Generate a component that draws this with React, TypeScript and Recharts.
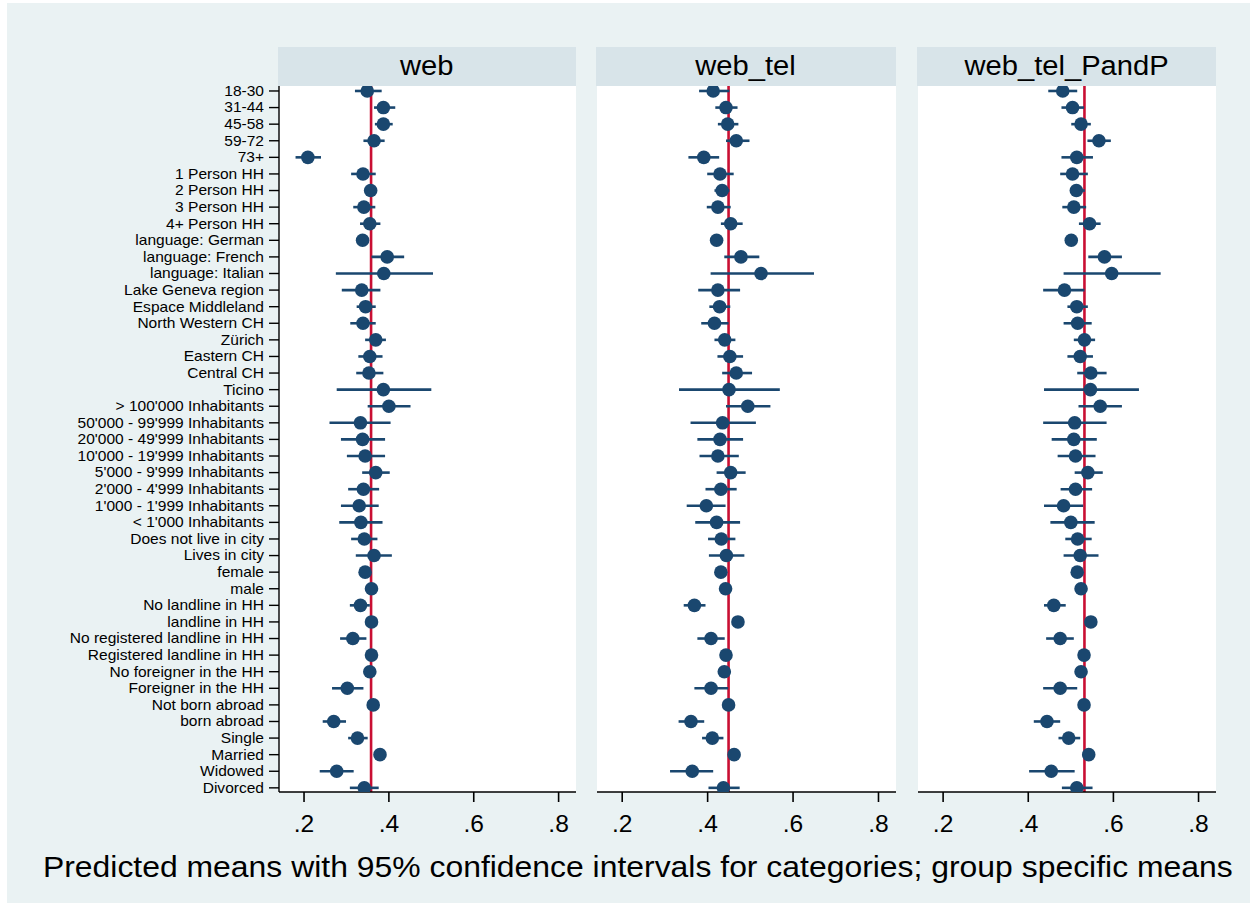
import {
  CartesianGrid,
  ComposedChart,
  ErrorBar,
  ReferenceLine,
  Scatter,
  XAxis,
  YAxis,
} from 'recharts'

// category labels, top to bottom
const categories = [
  '18-30', '31-44', '45-58', '59-72', '73+',
  '1 Person HH', '2 Person HH', '3 Person HH', '4+ Person HH',
  'language: German', 'language: French', 'language: Italian',
  'Lake Geneva region', 'Espace Middleland', 'North Western CH', 'Zürich',
  'Eastern CH', 'Central CH', 'Ticino',
  '> 100\'000 Inhabitants', '50\'000 - 99\'999 Inhabitants', '20\'000 - 49\'999 Inhabitants',
  '10\'000 - 19\'999 Inhabitants', '5\'000 - 9\'999 Inhabitants', '2\'000 - 4\'999 Inhabitants',
  '1\'000 - 1\'999 Inhabitants', '< 1\'000 Inhabitants',
  'Does not live in city', 'Lives in city', 'female', 'male',
  'No landline in HH', 'landline in HH', 'No registered landline in HH',
  'Registered landline in HH', 'No foreigner in the HH', 'Foreigner in the HH',
  'Not born abroad', 'born abroad', 'Single', 'Married', 'Widowed', 'Divorced',
]

const panelNames = ['web', 'web_tel', 'web_tel_PandP']
const groupMeans = [0.358, 0.449, 0.532]

const webMean = [
  0.349, 0.387, 0.387, 0.365, 0.209, 0.339, 0.357, 0.341, 0.355, 0.338, 0.396, 0.388,
  0.336, 0.345, 0.339, 0.369, 0.355, 0.353, 0.387, 0.400, 0.333, 0.338, 0.344, 0.369,
  0.340, 0.330, 0.334, 0.342, 0.365, 0.344, 0.359, 0.333, 0.359, 0.315, 0.359, 0.355,
  0.302, 0.363, 0.270, 0.326, 0.379, 0.277, 0.342,
]
const webLo = [
  0.320, 0.365, 0.367, 0.340, 0.180, 0.311, 0.350, 0.316, 0.332, 0.330, 0.359, 0.275,
  0.289, 0.324, 0.309, 0.344, 0.328, 0.323, 0.277, 0.350, 0.260, 0.287, 0.301, 0.337,
  0.304, 0.287, 0.283, 0.311, 0.322, 0.336, 0.352, 0.308, 0.354, 0.285, 0.353, 0.349,
  0.266, 0.357, 0.244, 0.304, 0.372, 0.237, 0.308,
]
const webHi = [
  0.383, 0.415, 0.409, 0.390, 0.240, 0.369, 0.371, 0.368, 0.380, 0.346, 0.436, 0.504,
  0.380, 0.369, 0.369, 0.393, 0.385, 0.387, 0.500, 0.451, 0.404, 0.391, 0.391, 0.402,
  0.377, 0.376, 0.385, 0.373, 0.407, 0.352, 0.366, 0.355, 0.364, 0.347, 0.365, 0.361,
  0.340, 0.369, 0.299, 0.350, 0.386, 0.317, 0.376,
]

const webTelMean = [
  0.413, 0.443, 0.447, 0.467, 0.391, 0.429, 0.434, 0.424, 0.454, 0.421, 0.478, 0.525,
  0.424, 0.428, 0.416, 0.440, 0.452, 0.467, 0.450, 0.494, 0.435, 0.429, 0.424, 0.454,
  0.431, 0.397, 0.421, 0.432, 0.444, 0.431, 0.442, 0.369, 0.471, 0.408, 0.443, 0.439,
  0.408, 0.449, 0.361, 0.411, 0.462, 0.364, 0.437,
]
const webTelLo = [
  0.380, 0.418, 0.424, 0.443, 0.355, 0.399, 0.416, 0.398, 0.431, 0.414, 0.439, 0.407,
  0.378, 0.404, 0.385, 0.416, 0.423, 0.434, 0.333, 0.443, 0.360, 0.376, 0.381, 0.421,
  0.395, 0.351, 0.371, 0.401, 0.403, 0.425, 0.436, 0.344, 0.465, 0.376, 0.437, 0.433,
  0.369, 0.443, 0.332, 0.387, 0.456, 0.312, 0.402,
]
const webTelHi = [
  0.451, 0.470, 0.472, 0.498, 0.427, 0.461, 0.451, 0.454, 0.482, 0.428, 0.521, 0.649,
  0.476, 0.453, 0.449, 0.465, 0.483, 0.504, 0.569, 0.547, 0.513, 0.483, 0.473, 0.489,
  0.468, 0.442, 0.476, 0.465, 0.486, 0.437, 0.448, 0.395, 0.477, 0.440, 0.449, 0.445,
  0.448, 0.455, 0.392, 0.437, 0.468, 0.413, 0.475,
]

const pandpMean = [
  0.481, 0.504, 0.524, 0.566, 0.514, 0.504, 0.513, 0.507, 0.544, 0.501, 0.579, 0.596,
  0.485, 0.514, 0.516, 0.532, 0.522, 0.547, 0.546, 0.569, 0.509, 0.507, 0.511, 0.540,
  0.511, 0.483, 0.500, 0.516, 0.522, 0.515, 0.524, 0.460, 0.547, 0.475, 0.531, 0.524,
  0.475, 0.531, 0.444, 0.495, 0.542, 0.454, 0.514,
]
const pandpLo = [
  0.447, 0.478, 0.501, 0.539, 0.478, 0.475, 0.498, 0.480, 0.519, 0.494, 0.541, 0.483,
  0.435, 0.492, 0.483, 0.507, 0.492, 0.515, 0.437, 0.518, 0.435, 0.455, 0.469, 0.509,
  0.476, 0.437, 0.452, 0.487, 0.483, 0.509, 0.518, 0.437, 0.541, 0.442, 0.525, 0.518,
  0.435, 0.525, 0.413, 0.471, 0.536, 0.402, 0.479,
]
const pandpHi = [
  0.515, 0.531, 0.547, 0.594, 0.552, 0.540, 0.533, 0.536, 0.570, 0.508, 0.620, 0.711,
  0.532, 0.540, 0.549, 0.557, 0.552, 0.584, 0.660, 0.620, 0.584, 0.561, 0.558, 0.575,
  0.550, 0.529, 0.556, 0.549, 0.565, 0.521, 0.530, 0.488, 0.553, 0.507, 0.537, 0.530,
  0.515, 0.537, 0.475, 0.522, 0.548, 0.509, 0.551,
]

const xTicks = [0.2, 0.4, 0.6, 0.8]

const NAVY = '#1a476f'
const RED = '#c90f33'
const BG = '#eaf2f3'
const STRIP = '#d8e4e9'
const FONT = '"Liberation Sans", Arial, Helvetica, sans-serif'

const rows = categories.map((_, i) => i + 1)

function buildRows(mean: number[], lo: number[], hi: number[]) {
  return mean.map((v, i) => ({
    row: i + 1,
    v,
    err: [v - lo[i], hi[i] - v],
  }))
}

const panels = [
  buildRows(webMean, webLo, webHi),
  buildRows(webTelMean, webTelLo, webTelHi),
  buildRows(pandpMean, pandpLo, pandpHi),
]

// plot-area left edges / widths of each panel, in page pixels
const plotLeft = [279, 597, 918]
const plotWidth = [297, 299, 298]
const PLOT_TOP = 86
const PLOT_H = 706
const PAD_TOP = 12

const fmtTick = (v: number) => String(v).replace(/^0/, '')

function Dot(props: any) {
  const { cx, cy } = props
  if (cx == null || cy == null) return null
  return <circle cx={cx} cy={cy} r={6.8} fill={NAVY} />
}

// Stata's text is a little wider than Arial, so stretch it horizontally
function CatTick(props: any) {
  const { x, y, payload } = props
  return (
    <text
      x={x}
      y={y}
      dy="0.35em"
      textAnchor="end"
      fontSize={14}
      fontFamily={FONT}
      fill="#000"
      transform={`translate(${x},0) scale(1.11,1) translate(${-x},0)`}
    >
      {categories[payload.value - 1] ?? ''}
    </text>
  )
}

function ValTick(props: any) {
  const { x, y, payload } = props
  return (
    <text
      x={x}
      y={y}
      dy="0.71em"
      textAnchor="middle"
      fontSize={23}
      fontFamily={FONT}
      fill="#000"
      transform={`translate(${x},0) scale(1.07,1) translate(${-x},0)`}
    >
      {fmtTick(payload.value)}
    </text>
  )
}

function Panel({ idx }: { idx: number }) {
  const first = idx === 0
  const yw = first ? plotLeft[0] : 0
  const left = first ? 0 : plotLeft[idx]
  const width = yw + plotWidth[idx]
  return (
    <div style={{ position: 'absolute', left, top: PLOT_TOP - PAD_TOP }}>
      <ComposedChart
        width={width}
        height={PLOT_H + PAD_TOP + 60}
        data={panels[idx]}
        margin={{ top: PAD_TOP, right: 0, bottom: 0, left: 0 }}
      >
        <rect x={yw} y={PAD_TOP} width={plotWidth[idx]} height={PLOT_H} fill="#ffffff" />
        <CartesianGrid
          horizontal
          vertical={false}
          horizontalValues={rows}
          stroke={BG}
          strokeWidth={2.2}
        />
        <XAxis
          type="number"
          dataKey="v"
          domain={[0.141, 0.841]}
          allowDataOverflow
          ticks={xTicks}
          tickSize={10}
          tickMargin={14}
          height={60}
          stroke="#000"
          strokeWidth={1.6}
          tick={<ValTick />}
        />
        <YAxis
          type="number"
          dataKey="row"
          domain={[0.7, 43.25]}
          allowDataOverflow
          reversed
          ticks={rows}
          interval={0}
          width={yw}
          hide={!first}
          tickSize={10}
          tickMargin={5}
          stroke="#000"
          strokeWidth={1.4}
          tick={<CatTick />}
        />
        <ReferenceLine x={groupMeans[idx]} stroke={RED} strokeWidth={2.6} ifOverflow="hidden" />
        <Scatter dataKey="v" shape={<Dot />} isAnimationActive={false}>
          <ErrorBar
            dataKey="err"
            direction="x"
            width={0}
            stroke={NAVY}
            strokeWidth={2.6}
            isAnimationActive={false}
          />
        </Scatter>
      </ComposedChart>
    </div>
  )
}

export default function App() {
  return (
    <div
      style={{
        position: 'absolute',
        left: 0,
        top: 0,
        width: 1257,
        height: 910,
        background: '#ffffff',
        fontFamily: FONT,
      }}
    >
      <div
        style={{
          position: 'absolute',
          left: 7,
          top: 3,
          width: 1243,
          height: 900,
          background: BG,
        }}
      />
      {panelNames.map((name, i) => (
        <div
          key={name}
          style={{
            position: 'absolute',
            left: plotLeft[i] - 1,
            top: 47,
            width: plotWidth[i] + 1,
            height: 39,
            background: STRIP,
            color: '#000',
            fontSize: 27,
            lineHeight: '39px',
            textAlign: 'center',
          }}
        >
          <span style={{ display: 'inline-block', transform: 'scaleX(1.08)' }}>{name}</span>
        </div>
      ))}
      {panelNames.map((name, i) => (
        <Panel key={name} idx={i} />
      ))}
      <div
        style={{
          position: 'absolute',
          left: 9,
          width: 1257,
          top: 849,
          textAlign: 'center',
          fontSize: 29,
          lineHeight: '36px',
          color: '#000',
        }}
      >
        <span style={{ display: 'inline-block', transform: 'scaleX(1.1)', whiteSpace: 'nowrap' }}>
          Predicted means with 95% confidence intervals for categories; group specific means
        </span>
      </div>
    </div>
  )
}
